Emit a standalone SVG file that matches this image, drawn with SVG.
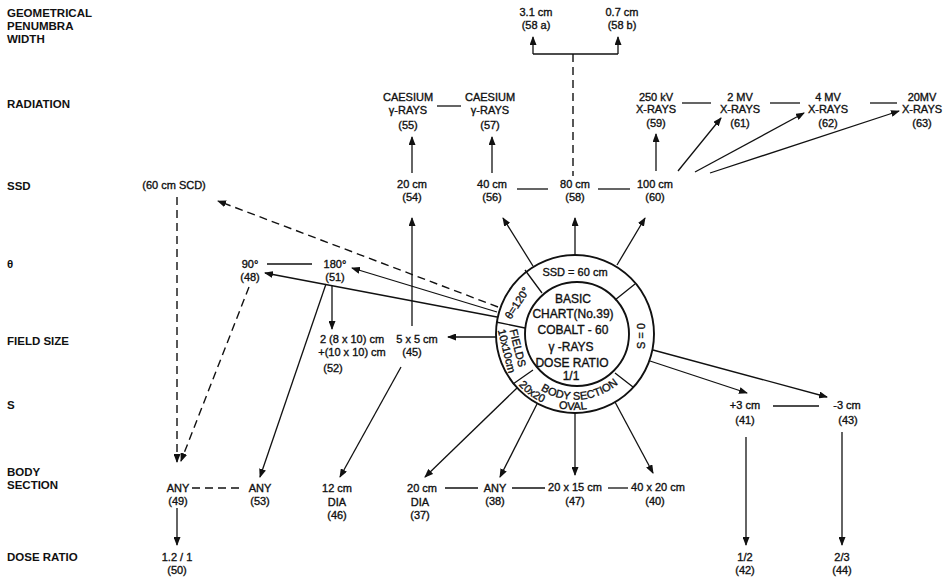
<svg xmlns="http://www.w3.org/2000/svg" width="950" height="580" viewBox="0 0 950 580">
<style>
text{font-family:"Liberation Sans",Arial,sans-serif;fill:#111}
.lab{font-size:11.5px;font-weight:bold}
.n{font-size:11px;text-anchor:middle;stroke:#111;stroke-width:0.35}
.c{font-size:12px;text-anchor:middle;stroke:#111;stroke-width:0.35}
.r{font-size:11px;text-anchor:middle;stroke:#111;stroke-width:0.35}
.ln{stroke:#111;stroke-width:1.3;fill:none}
.ar{stroke:#111;stroke-width:1.3;fill:none;marker-end:url(#ah)}
.ds{stroke:#111;stroke-width:1.4;fill:none;stroke-dasharray:8 5}
.dsa{stroke:#111;stroke-width:1.4;fill:none;stroke-dasharray:8 5;marker-end:url(#ah)}
.ring{stroke:#111;stroke-width:1.9;fill:#fff}
</style>
<defs>
<marker id="ah" markerWidth="9" markerHeight="7" refX="8" refY="3.5" orient="auto" markerUnits="userSpaceOnUse">
<path d="M0,0 L9,3.5 L0,7 z" fill="#111"/>
</marker>
<path id="arcB" d="M529.04,380.96 A66,66 0 0 0 625.56,376.42"/>
<path id="arcO" d="M516.78,382.85 A76,76 0 0 0 633.22,382.85"/>
</defs>
<rect width="950" height="580" fill="#fff"/>

<g id="row-labels">
<text class="lab" x="7" y="17">GEOMETRICAL</text>
<text class="lab" x="7" y="30">PENUMBRA</text>
<text class="lab" x="7" y="43">WIDTH</text>
<text class="lab" x="7" y="108">RADIATION</text>
<text class="lab" x="7" y="190">SSD</text>
<text class="lab" x="7" y="268">θ</text>
<text class="lab" x="7" y="345">FIELD SIZE</text>
<text class="lab" x="7" y="409">S</text>
<text class="lab" x="7" y="476">BODY</text>
<text class="lab" x="7" y="489">SECTION</text>
<text class="lab" x="7" y="561">DOSE RATIO</text>
</g>

<g id="connectors">
<path class="ln" d="M533,54 H618"/>
<path class="ar" d="M533,54 V37"/>
<path class="ar" d="M618,54 V37"/>
<path class="ds" d="M573,54 V176"/>
<path class="ar" d="M412,173 V137"/>
<path class="ar" d="M492,173 V137"/>
<path class="ar" d="M656,171 V134"/>
<path class="ar" d="M678,171 L721,118"/>
<path class="ar" d="M695,172 L804,113"/>
<path class="ar" d="M710,173 L899,111"/>
<path class="ln" d="M437,106 H461"/>
<path class="ln" d="M682,103 H711"/>
<path class="ln" d="M770,103 H800"/>
<path class="ln" d="M870,103 H897"/>
<path class="ln" d="M517,189 H548"/>
<path class="ln" d="M598,189 H630"/>
<path class="ar" d="M533,266 L503,218"/>
<path class="ar" d="M575,255 V218"/>
<path class="ar" d="M617,265 L645,218"/>
<path class="dsa" d="M498,307 L218,201"/>
<path class="dsa" d="M177,197 V462"/>
<path class="ar" d="M497,312 L352,268"/>
<path class="ar" d="M497,317 L265,273"/>
<path class="ln" d="M267,264 H312"/>
<path class="ar" d="M332,286 V329"/>
<path class="ar" d="M326,284 L260,477"/>
<path class="dsa" d="M249,287 L181,461"/>
<path class="ar" d="M412,326 V218"/>
<path class="ar" d="M496,337 H448"/>
<path class="ar" d="M401,367 L340,477"/>
<path class="ar" d="M517,388 L425,477"/>
<path class="ar" d="M537,404 L500,477"/>
<path class="ar" d="M575,413 V475"/>
<path class="ar" d="M615,402 L653,473"/>
<path class="ln" d="M445,488 H478"/>
<path class="ln" d="M512,488 H545"/>
<path class="ln" d="M608,488 H628"/>
<path class="ds" d="M192,488 H243"/>
<path class="ar" d="M177,508 V545"/>
<path class="ar" d="M650,361 L747,393"/>
<path class="ar" d="M653,350 L827,397"/>
<path class="ln" d="M773,406 H819"/>
<path class="ar" d="M746,437 V545"/>
<path class="ar" d="M842,432 V545"/>
</g>

<g id="basic-chart">
<circle class="ring" cx="575" cy="334" r="79"/>
<circle class="ring" cx="577" cy="334" r="52"/>
<path class="ln" stroke-width="1.6" d="M615,300 L635,284 M525,270 L542,293 M496,322 L525,328 M513,384 L533,370 M615,373 L633,387"/>
<text class="r" x="575" y="276" font-size="11.5">SSD = 60 cm</text>
<text class="r" transform="translate(641,336) rotate(-90)" y="4">S = 0</text>
<text class="r" font-size="11" transform="translate(517,303) rotate(-57)" y="4">θ=120°</text>
<text class="r" transform="translate(518,348) rotate(76)" y="4">FIELDS</text>
<text class="r" font-size="10" transform="translate(507,351) rotate(76)" y="4">10x10cm</text>
<text class="r" font-size="11"><textPath href="#arcB" startOffset="52%">BODY SECTION</textPath></text>
<text font-size="11" stroke="#111" stroke-width="0.35"><textPath href="#arcO" startOffset="3">20x20</textPath></text>
<text class="r" font-size="11"><textPath href="#arcO" startOffset="64">OVAL</textPath></text>
<text class="c" x="573" y="302.5">BASIC</text>
<text class="c" x="573" y="317.5">CHART(No.39)</text>
<text class="c" x="573" y="334">COBALT - 60</text>
<text class="c" x="571" y="351">γ -RAYS</text>
<text class="c" x="572" y="367">DOSE RATIO</text>
<text class="c" x="571" y="380" font-size="11">1/1</text>
</g>

<g id="n58a"><text class="n" x="536" y="16">3.1 cm</text><text class="n" x="536" y="29">(58 a)</text></g>
<g id="n58b"><text class="n" x="622" y="16">0.7 cm</text><text class="n" x="622" y="29">(58 b)</text></g>
<g id="n55"><text class="n" x="408" y="101">CAESIUM</text><text class="n" x="408" y="114">γ-RAYS</text><text class="n" x="408" y="129">(55)</text></g>
<g id="n57"><text class="n" x="490" y="101">CAESIUM</text><text class="n" x="490" y="114">γ-RAYS</text><text class="n" x="490" y="129">(57)</text></g>
<g id="n59"><text class="n" x="656" y="101">250 kV</text><text class="n" x="656" y="113">X-RAYS</text><text class="n" x="656" y="127">(59)</text></g>
<g id="n61"><text class="n" x="740" y="101">2 MV</text><text class="n" x="740" y="113">X-RAYS</text><text class="n" x="740" y="127">(61)</text></g>
<g id="n62"><text class="n" x="828" y="101">4 MV</text><text class="n" x="828" y="113">X-RAYS</text><text class="n" x="828" y="127">(62)</text></g>
<g id="n63"><text class="n" x="922" y="101">20MV</text><text class="n" x="922" y="113">X-RAYS</text><text class="n" x="922" y="127">(63)</text></g>
<g id="nSCD"><text class="n" x="174" y="189">(60 cm SCD)</text></g>
<g id="n54"><text class="n" x="412" y="188">20 cm</text><text class="n" x="412" y="201">(54)</text></g>
<g id="n56"><text class="n" x="492" y="188">40 cm</text><text class="n" x="492" y="201">(56)</text></g>
<g id="n58"><text class="n" x="575" y="188">80 cm</text><text class="n" x="575" y="201">(58)</text></g>
<g id="n60"><text class="n" x="655" y="188">100 cm</text><text class="n" x="655" y="201">(60)</text></g>
<g id="n48"><text class="n" x="250" y="268">90°</text><text class="n" x="250" y="281">(48)</text></g>
<g id="n51"><text class="n" x="335" y="268">180°</text><text class="n" x="335" y="281">(51)</text></g>
<g id="n52"><text class="n" x="352" y="343">2 (8 x 10) cm</text><text class="n" x="352" y="356">+(10 x 10) cm</text><text class="n" x="333" y="372">(52)</text></g>
<g id="n45"><text class="n" x="417" y="343">5 x 5  cm</text><text class="n" x="412" y="356">(45)</text></g>
<g id="n49"><text class="n" x="178" y="492">ANY</text><text class="n" x="178" y="505">(49)</text></g>
<g id="n50"><text class="n" x="177" y="561">1.2 / 1</text><text class="n" x="177" y="574">(50)</text></g>
<g id="n53"><text class="n" x="260" y="492">ANY</text><text class="n" x="260" y="505">(53)</text></g>
<g id="n46"><text class="n" x="337" y="492">12 cm</text><text class="n" x="337" y="506">DIA</text><text class="n" x="337" y="519">(46)</text></g>
<g id="n37"><text class="n" x="422" y="492">20 cm</text><text class="n" x="420" y="506">DIA</text><text class="n" x="420" y="519">(37)</text></g>
<g id="n38"><text class="n" x="495" y="492">ANY</text><text class="n" x="495" y="505">(38)</text></g>
<g id="n47"><text class="n" x="575" y="491">20 x 15 cm</text><text class="n" x="575" y="505">(47)</text></g>
<g id="n40"><text class="n" x="658" y="491">40 x 20 cm</text><text class="n" x="655" y="505">(40)</text></g>
<g id="n41"><text class="n" x="745" y="409">+3 cm</text><text class="n" x="745" y="424">(41)</text></g>
<g id="n43"><text class="n" x="847" y="409">-3 cm</text><text class="n" x="848" y="424">(43)</text></g>
<g id="n42"><text class="n" x="745" y="561">1/2</text><text class="n" x="745" y="574">(42)</text></g>
<g id="n44"><text class="n" x="842" y="561">2/3</text><text class="n" x="842" y="574">(44)</text></g>
</svg>
